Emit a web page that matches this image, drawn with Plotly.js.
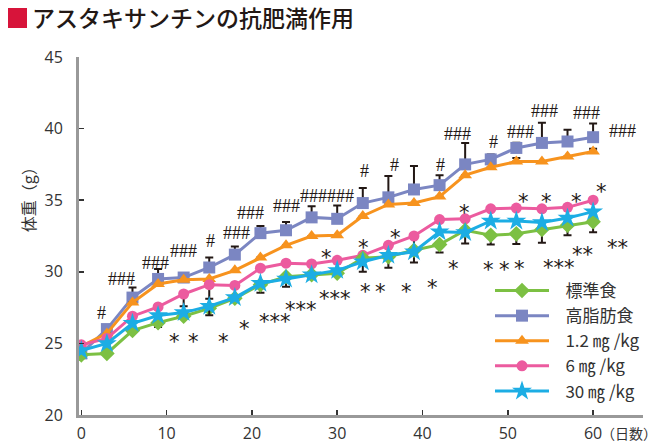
<!DOCTYPE html>
<html>
<head>
<meta charset="utf-8">
<script src="https://cdn.plot.ly/plotly-3.0.1.min.js"></script>
<style>
html,body{margin:0;padding:0;background:#fff;}
#chart{width:660px;height:447px;}
</style>
</head>
<body>
<div id="chart"></div>
<script>
// ---- data ----
const days = [0,3,6,9,12,15,18,21,24,27,30,33,36,39,42,45,48,51,54,57,60];
const seriesNames = ["標準食","高脂肪食","1.2 ㎎ /kg","6 ㎎ /kg","30 ㎎ /kg"];
const standardDiet = [24.2,24.3,25.9,26.45,26.9,27.45,28.15,29.1,29.65,29.8,29.9,30.95,31.05,31.5,31.9,32.9,32.55,32.65,32.95,33.25,33.5];
const highFat      = [24.3,26.0,28.2,29.5,29.6,30.3,31.2,32.7,32.9,33.8,33.7,34.8,35.2,35.75,36.05,37.5,37.85,38.65,39.0,39.1,39.4];
const dose1_2      = [24.8,25.7,27.85,29.15,29.45,29.5,30.1,31.0,31.85,32.5,32.55,33.9,34.7,34.8,35.25,36.75,37.3,37.7,37.7,38.05,38.4];
const dose6        = [24.9,25.35,26.9,27.55,28.45,29.1,29.05,30.25,30.6,30.55,30.8,31.15,31.85,32.5,33.65,33.7,34.4,34.45,34.4,34.5,35.0];
const dose30       = [24.5,25.0,26.4,26.95,27.15,27.6,28.2,29.2,29.5,29.8,30.1,30.7,31.15,31.4,32.8,32.75,33.55,33.55,33.45,33.75,34.2];
// one-sided error bars (SE)
const highFatErrUp      = [0,0,0.7,0.7,0,0.7,0.56,0.5,0.58,0.77,0.93,1.05,1.49,1.63,0.7,1.49,0.35,0.37,1.4,0.82,0.96];
const dose1_2ErrUp      = [0,0,0,0,0,0,0,0,0,0,0,0,0,0,0,0,0,0.25,0,0,0.2];
const dose6ErrDown      = [0,0,0,0,0.85,0.98,0,0,0,0,0,0,0,1.85,0,0,0,0,0,0,0];
const dose30ErrDown     = [0,0,0,0,0,0.63,0,0,0,0,0,0,0,0,0,0,0,0,0,0,0];
const standardErrDown   = [0,0,0,0.3,0,0,0,0.57,0.7,0.3,0.2,0.95,0.77,0,0.56,0.93,0.65,0.7,0.93,0.7,0.74];
// significance marks: [day, weight, text]
const hashMarks = [
  [2.39,27.1,"#"],[4.74,29.48,"###"],[8.64,30.64,"###"],[11.96,31.45,"###"],[15.15,32.15,"#"],
  [18.22,32.73,"###"],[19.78,34.08,"###"],[24.08,34.6,"###"],[28.8,35.3,"######"],
  [33.18,37.06,"#"],[36.7,37.46,"#"],[42.13,37.46,"#"],[44.08,39.6,"###"],[48.38,39.09,"#"],
  [51.43,39.74,"###"],[54.28,41.23,"###"],[59.25,41.12,"###"],[63.47,39.85,"###"]
];
const starMarks = [
  [10.98,25.47,"*"],[13.13,25.47,"*"],[16.65,25.47,"*"],[19.19,26.35,"*"],[22.71,26.82,"***"],
  [25.72,27.68,"***"],[29.74,28.45,"***"],[28.77,31.33,"*"],[33.06,31.99,"*"],[36.86,32.73,"*"],
  [33.26,28.96,"*"],[35.13,28.96,"*"],[38.07,28.92,"*"],[41.15,29.2,"*"],[43.69,30.52,"*"],
  [44.98,34.43,"*"],[47.71,30.47,"*"],[49.67,30.47,"*"],[51.35,30.52,"*"],[56.0,30.62,"***"],
  [58.75,31.55,"**"],[62.84,32.03,"**"],[51.82,35.2,"*"],[54.48,35.2,"*"],[58.0,35.2,"*"],[61.0,35.9,"*"]
];
const xTicks = [0,10,20,30,40,50,60];
const yTicks = [20,25,30,35,40,45];

// ---- styles ----
const colors = ["#7cc043","#7b86c2","#f7931e","#ec5b9f","#1cade4"];
const symbols = ["diamond","square","triangle-up","circle","star"];
const msizes = [12,12,12,11,15];
const errColor = "#231815";

function mkErr(up, down){
  return {type:"data", symmetric:false, array:up, arrayminus:down,
          color:errColor, thickness:2, width:4, visible:true};
}
const zeros = days.map(()=>0);
const ys = [standardDiet, highFat, dose1_2, dose6, dose30];
const errs = [mkErr(zeros, standardErrDown), mkErr(highFatErrUp, zeros), mkErr(dose1_2ErrUp, zeros),
              mkErr(zeros, dose6ErrDown), mkErr(zeros, dose30ErrDown)];
const drawOrder = [1,2,3,0,4];
const traces = drawOrder.map(i => ({
  type:"scatter", mode:"lines+markers", x:days, y:ys[i], name:"\u00a0\u00a0\u00a0" + seriesNames[i],
  legendrank: i+1,
  line:{color:colors[i], width:3},
  marker:{symbol:symbols[i], size:msizes[i], color:colors[i]},
  error_y: errs[i]
}));

const annotations = [];
hashMarks.forEach(m => annotations.push({x:m[0], y:m[1], text:m[2], showarrow:false,
  font:{family:"Liberation Serif", size:18, color:"#231815"}, xanchor:"center", yanchor:"middle"}));
starMarks.forEach(m => annotations.push({x:m[0], y:m[1], text:m[2], showarrow:false,
  font:{family:"DejaVu Sans", size:21, color:"#231815"}, xanchor:"center", yanchor:"middle", yshift:-5}));
annotations.push({xref:"paper", yref:"paper", x:-0.09, y:0.612, text:"体重（g）", textangle:-90,
  showarrow:false, font:{family:"Noto Sans CJK JP", size:16, color:"#333"}, xanchor:"center", yanchor:"middle"});
annotations.push({xref:"paper", yref:"paper", x:(599-79)/564, y:(415-433)/358, text:"（日数）",
  showarrow:false, font:{family:"Noto Sans CJK JP", size:14, color:"#333"}, xanchor:"left", yanchor:"middle"});

const layout = {
  width:660, height:447,
  margin:{l:79, r:17, t:57, b:32},
  paper_bgcolor:"#fff", plot_bgcolor:"#fff",
  title:{text:"アスタキサンチンの抗肥満作用", x:32/660, xref:"container", xanchor:"left",
         y:1-19/447, yref:"container", yanchor:"middle",
         font:{family:"Noto Sans CJK JP", size:23, color:"#231815", weight:500}},
  xaxis:{range:[-0.27,65.85], tickvals:xTicks, ticktext:xTicks.map(String), showgrid:false, zeroline:false,
         showline:true, linecolor:"#999", linewidth:3, ticks:"inside", ticklen:5, tickwidth:1.5, tickcolor:"#333",
         tickfont:{family:"Open Sans", size:16, color:"#333"}, ticklabelstandoff:2},
  yaxis:{range:[20,45], tickvals:yTicks, showgrid:false, zeroline:false,
         showline:true, linecolor:"#999", linewidth:3, ticks:"inside", ticklen:5, tickwidth:1.5, tickcolor:"#333",
         tickfont:{family:"Open Sans", size:16, color:"#333"}, ticklabelstandoff:10},
  showlegend:true,
  legend:{x:(490-79)/564, y:(415-273)/358, xanchor:"left", yanchor:"top", bgcolor:"rgba(0,0,0,0)",
          font:{family:"Noto Sans CJK JP", size:17, color:"#333"}, itemwidth:54, tracegroupgap:0},
  shapes:[{type:"rect", xref:"paper", yref:"paper", x0:(8-79)/564, x1:(27-79)/564,
           y0:(415-28)/358, y1:(415-8)/358, fillcolor:"#d7143a", line:{width:0}}],
  annotations:annotations
};
Plotly.newPlot("chart", traces, layout, {displayModeBar:false, staticPlot:true});
</script>
</body>
</html>
